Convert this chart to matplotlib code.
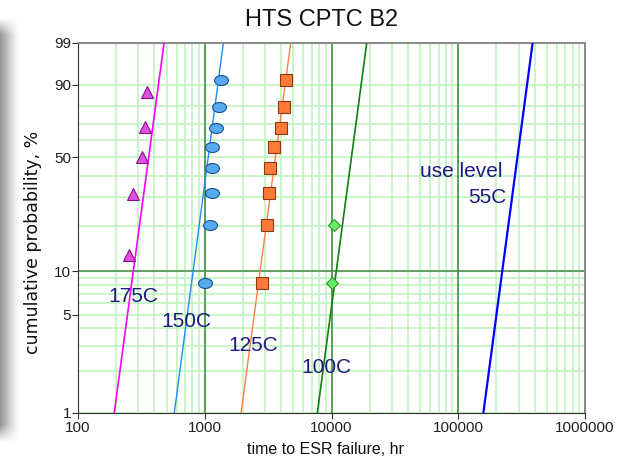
import numpy as np
import matplotlib
matplotlib.use("Agg")
import matplotlib.pyplot as plt
from matplotlib.path import Path
from matplotlib.transforms import Affine2D

# failure data, percent = median ranks
t_175 = [251, 270, 321, 340, 350]
p_175 = [12.9, 31.5, 50.0, 68.5, 87.0]
t_150 = [1004, 1099, 1148, 1148, 1148, 1234, 1295, 1343]
p_150 = [8.3, 20.2, 32.1, 44.0, 56.0, 67.9, 79.8, 91.7]
t_125 = [2812, 3081, 3195, 3253, 3498, 3995, 4198, 4400]
p_125 = [8.3, 20.2, 32.1, 44.0, 56.0, 67.9, 79.8, 91.7]
t_100 = [10040, 10520]
p_100 = [8.3, 20.2]

# weibull fits per temperature
fit_names = ["175C", "150C", "125C", "100C", "55C"]
fit_eta = [381, 1123, 3806, 15160, 308900]
fit_beta = [6.77, 6.87, 6.79, 6.83, 6.85]

label_text = ["175C", "150C", "125C", "100C", "use level", "55C"]
label_t = [274, 718, 2393, 9058, 105200, 168700]
label_p = [6.16, 4.11, 2.78, 1.94, 39.5, 27.7]

y_ticks = [1, 5, 10, 50, 90, 99]
x_ticks = [100, 1000, 10000, 100000, 1000000]

NARROW = ["Liberation Sans Narrow", "Liberation Sans", "DejaVu Sans"]
SANS = ["Liberation Sans", "DejaVu Sans"]
NAVY = "#1c1c80"


def wb_fwd(p):
    p = np.clip(np.asarray(p, dtype=float), 1e-6, 100 - 1e-6)
    return np.log(-np.log(1 - p / 100.0))


def wb_inv(w):
    return 100.0 * (1 - np.exp(-np.exp(w)))


fig = plt.figure(figsize=(6.23, 4.58), dpi=100)

# soft gray shadow at the left edge
shade = fig.add_axes([0, 0.033, 0.032, 0.928])
gx = np.linspace(0, 1, 40)
gy = np.linspace(0, 1, 200)
fade_y = np.clip(np.minimum(gy, 1 - gy) / 0.04, 0, 1)
fade_x = np.clip(1 - gx, 0, 1) ** 1.2
shade.imshow(1 - 0.42 * np.outer(fade_y, fade_x), cmap="gray", vmin=0, vmax=1,
             aspect="auto", extent=[0, 1, 0, 1])
shade.axis("off")

ax = fig.add_axes([78 / 623, 1 - 413 / 458, 507 / 623, 370 / 458])
ax.set_xscale("log")
ax.set_yscale("function", functions=(wb_fwd, wb_inv))
ax.set_xlim(100, 1e6)
ax.set_ylim(1, 99)

# grid: light green minor, darker green at decades / 10 %
x_minor = [m * 10 ** e for e in range(2, 6) for m in range(2, 10)]
y_minor = list(range(2, 10)) + list(range(20, 100, 10)) + [5, 10]
ax.set_xticks(x_minor, minor=True)
ax.set_yticks(y_minor, minor=True)
ax.set_xticks(x_ticks, [str(v) for v in x_ticks])
ax.set_yticks(y_ticks, [str(v) for v in y_ticks])
ax.grid(which="both", color="#bff5bf", linewidth=1.2)
for xv in [1e3, 1e4, 1e5]:
    ax.axvline(xv, color="#3a8a3a", linewidth=1.1)
ax.axhline(10, color="#4a8a4a", linewidth=1.1)
ax.set_axisbelow(True)

ax.tick_params(which="minor", length=0)
ax.tick_params(which="major", length=4, width=0.8, color="#303030",
               labelsize=11, labelcolor="#202020", pad=1)
ax.tick_params(axis="x", pad=2)
for lab in ax.get_xticklabels() + ax.get_yticklabels():
    lab.set_family(NARROW)

for side in ["left", "bottom"]:
    ax.spines[side].set_color("#303030")
for side in ["top", "right"]:
    ax.spines[side].set_color("#808080")
    ax.spines[side].set_linewidth(1.3)

# weibull lines
fit_colors = ["#ff00ff", "#1e8cff", "#ff8040", "#108010", "#0000ff"]
fit_widths = [1.2, 1.0, 1.0, 1.2, 1.6]
pp = np.linspace(1, 99, 200)
for eta, beta, c, lw in zip(fit_eta, fit_beta, fit_colors, fit_widths):
    tt = eta * (-np.log(1 - pp / 100)) ** (1 / beta)
    ax.plot(tt, pp, color=c, linewidth=lw, zorder=3)

ellipse = Path.unit_circle().transformed(Affine2D().scale(1.0, 0.72))
ax.plot(t_175, p_175, linestyle="none", marker="^", markersize=8.5,
        markerfacecolor="#e050e0", markeredgecolor="#8a108a", markeredgewidth=0.8, zorder=4)
ax.plot(t_150, p_150, linestyle="none", marker=ellipse, markersize=10,
        markerfacecolor="#58aaf0", markeredgecolor="#1a4f90", markeredgewidth=0.8, zorder=4)
ax.plot(t_125, p_125, linestyle="none", marker="s", markersize=8,
        markerfacecolor="#ff7a38", markeredgecolor="#8a3a10", markeredgewidth=0.8, zorder=4)
ax.plot(t_100, p_100, linestyle="none", marker="D", markersize=6.5,
        markerfacecolor="#66ee66", markeredgecolor="#2a9a2a", markeredgewidth=0.8, zorder=4)

for txt, tx, ty in zip(label_text, label_t, label_p):
    ax.text(tx, ty, txt, ha="center", va="baseline", fontsize=15,
            color=NAVY, family=SANS, zorder=5)

fig.text(322 / 623, 1 - 25.7 / 458, "HTS CPTC B2", ha="center", va="baseline",
         fontsize=17, family=NARROW, color="#101010")
fig.text(33 / 623, 1 - 242.5 / 458, "cumulative probability, %", rotation=90,
         ha="center", va="center", fontsize=12.5, family=["DejaVu Sans"], color="#101010")
fig.text(325 / 623, 1 - 454 / 458, "time to ESR failure, hr", ha="center",
         va="baseline", fontsize=11.5, family=NARROW, color="#101010")

fig.savefig("out.png", dpi=100)
